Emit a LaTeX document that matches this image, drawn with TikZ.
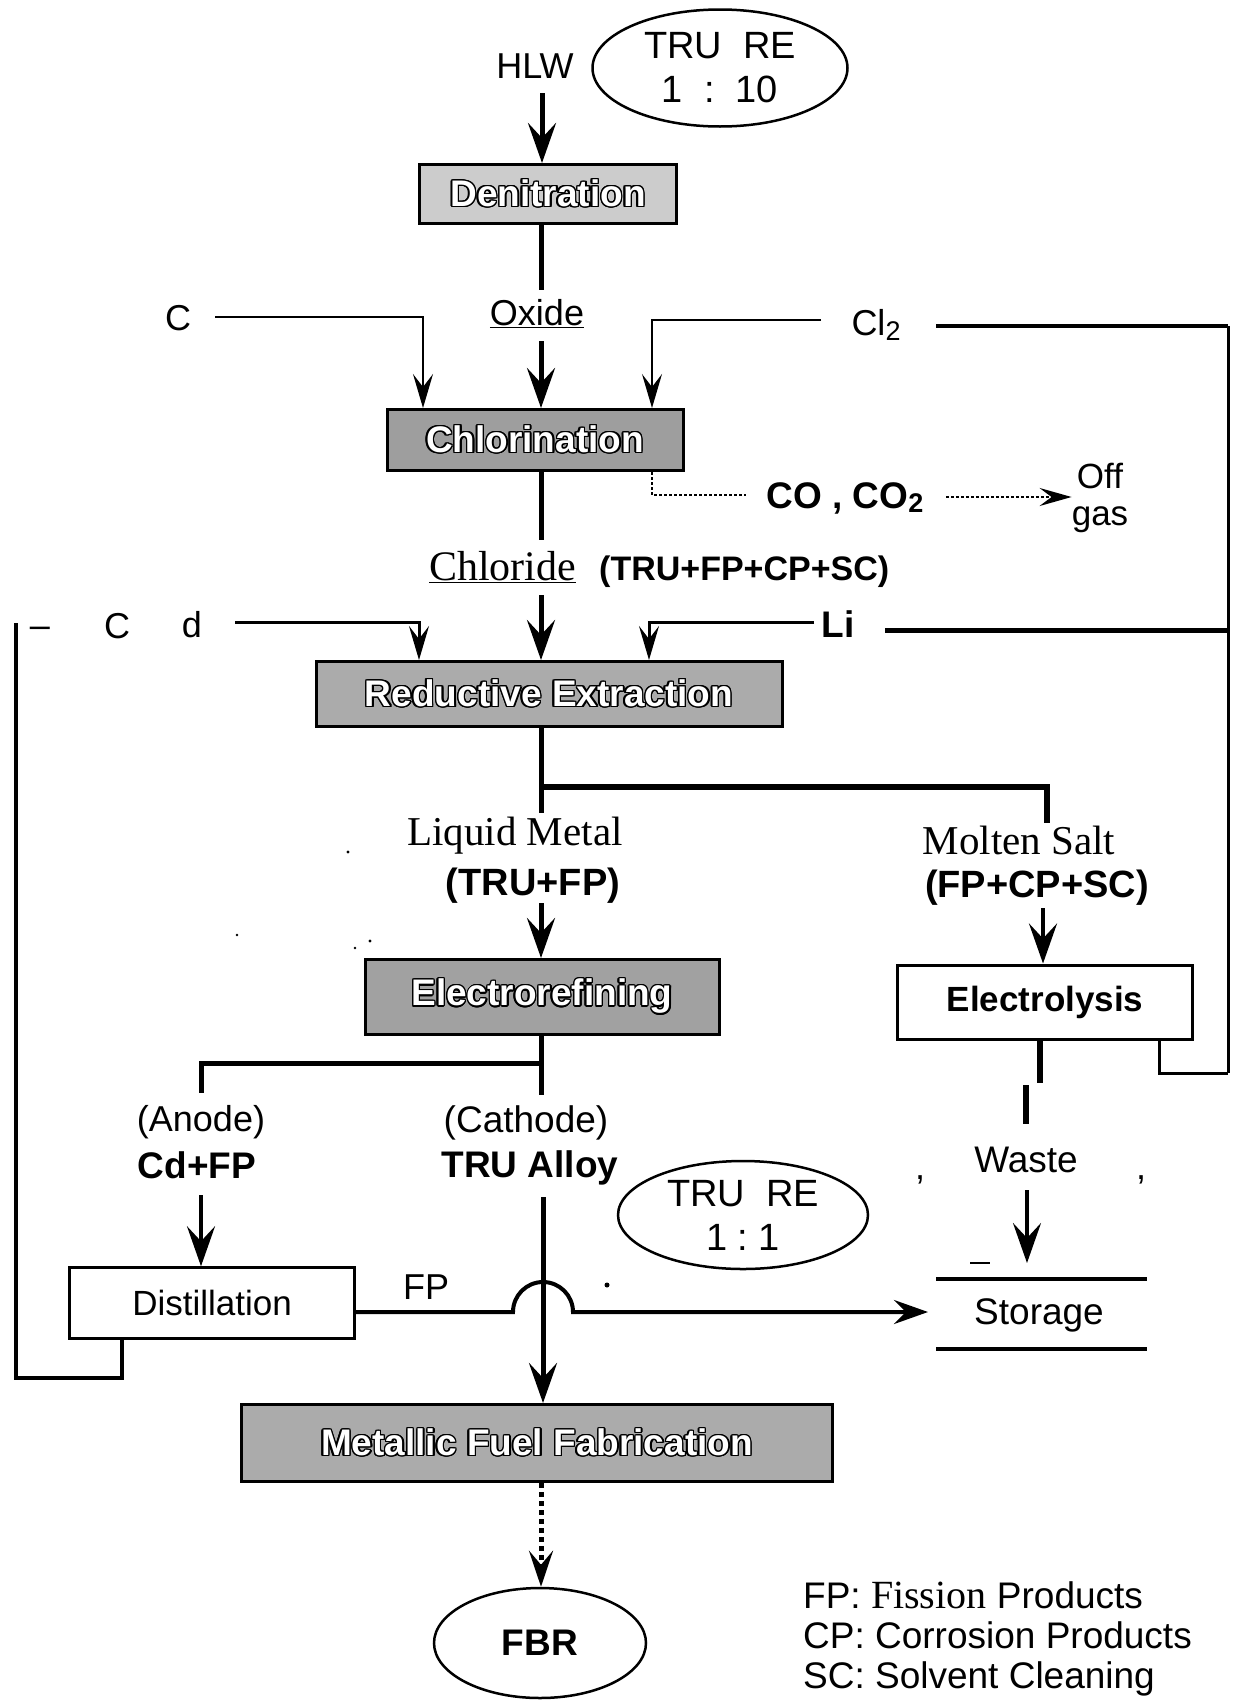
\documentclass[tikz,border=0pt]{standalone}
\usepackage{fontspec}
\setmainfont{Liberation Sans}
\newfontfamily\serifx{Liberation Serif}
\usepackage[copies]{contour}
\contourlength{1.4pt}
\usetikzlibrary{arrows.meta,shapes.geometric}
\newcommand\fsz[2]{\fontsize{#1}{#2}\selectfont}
\newcommand\boxtxt[1]{\contour{black}{\textcolor{white}{#1}}}
\newcommand\subtwo{\raisebox{-0.12em}{\fsz{27}{27}2}}
\tikzset{
  lbl/.style={inner sep=0pt, font=\fsz{36}{40}},
  blbl/.style={inner sep=0pt, font=\fsz{37}{40}\bfseries},
  slbl/.style={inner sep=0pt, font=\fsz{41}{44}\serifx},
  proc/.style={draw, line width=3pt, fill=gray!68, inner sep=0pt, font=\fsz{37}{40}\bfseries},
  wbox/.style={draw, line width=3pt, fill=white, inner sep=0pt},
  ellx/.style={draw, ellipse, line width=2.5pt, inner sep=0pt, align=center},
  spine/.style={line width=5pt},
  thinl/.style={line width=2pt},
  arrbig/.style={-{Stealth[length=40pt,width=28pt,inset=15pt]}},
  arrthin/.style={-{Stealth[length=34pt,width=20pt,inset=13pt]}},
  dotl/.style={line width=2.5pt, dash pattern=on 2.5pt off 2.5pt},
}
\begin{document}
\begin{tikzpicture}[x=1pt,y=-1pt]
\useasboundingbox (0,0) rectangle (1235,1700);

% ---------- top ----------
\node[lbl] (hlw) at (535,66) {HLW};
\node[ellx, minimum width=255, minimum height=117, font=\fsz{38}{44}] (re10) at (720,68) {TRU\ \ RE\\1\ \ :\ \ 10};
\node[proc, fill=gray!40, minimum width=257, minimum height=59] (deni) at (548,194) {\boxtxt{Denitration}};
\coordinate (hlwS) at (542,93);
\draw[spine, arrbig] (hlwS) -- (hlwS |- deni.north);

\coordinate (sp) at (541,0);
\node[lbl] (oxide) at (537,314) {\underline{Oxide}};
\coordinate (oxT) at (541,290);
\coordinate (oxB) at (541,341);
\draw[spine] (deni.south -| sp) -- (oxT);

\node[proc, fill=gray!76, minimum width=296, minimum height=61] (chlor) at (535,440) {\boxtxt{Chlorination}};
\draw[spine, arrbig] (oxB) -- (chlor.north -| sp);

% C input
\node[lbl] (cin) at (178,318) {C};
\coordinate (cA) at (215,317);
\coordinate (cK) at (423,317);
\draw[thinl, arrthin] (cA) -- (cK) -- (cK |- chlor.north);

% Cl2 input
\node[lbl] (cl2) at (876,325) {Cl\subtwo};
\coordinate (clA) at (821,320);
\coordinate (clK) at (652,320);
\draw[thinl, arrthin] (clA) -- (clK) -- (clK |- chlor.north);
\coordinate (clR) at (936,326);
\coordinate (rTop) at (1228,326);
\coordinate (rBot) at (1228,1073);
\draw[line width=3.5pt] (clR) -- (rTop);
\draw[line width=3pt] (rTop) -- (rBot);

% off gas
\node[blbl, font=\fsz{37}{40}\bfseries] (co) at (845,498) {CO , CO\subtwo};
\node[lbl, align=center, font=\fsz{35}{37}] (offgas) at (1100,498) {Off\\gas};
\coordinate (dK) at (652,495);
\coordinate (dE) at (746,495);
\draw[dotl] (chlor.south -| dK) -- (dK) -- (dE);
\coordinate (dA) at (946,497);
\draw[dotl, -{Stealth[length=32pt,width=18pt,inset=12pt]}] (dA) -- (offgas.west |- dA);

% chloride
\coordinate (chT) at (541,540);
\draw[spine] (chlor.south -| sp) -- (chT);
\node[inner sep=0pt, anchor=base west, font=\fsz{42}{44}\serifx] (chloride) at (429,580) {\underline{Chloride}};
\node[inner sep=0pt, anchor=base west, font=\fsz{34}{40}\bfseries] (chlgrp) at (599,580) {(TRU+FP+CP+SC)};

\node[proc, fill=gray!66, minimum width=466, minimum height=65] (redx) at (549,694) {\boxtxt{Reductive Extraction}};
\coordinate (chB) at (541,595);
\draw[spine, arrbig] (chB) -- (redx.north -| sp);

% Cd input
\node[lbl] (cdash) at (40,632) {--};
\node[lbl] (cdc) at (117,626) {C};
\node[lbl] (cdd) at (192,625) {d};
\coordinate (cdA) at (235,622);
\coordinate (cdK) at (419,622);
\draw[line width=3pt, arrthin] (cdA) -- (cdK) -- (cdK |- redx.north);

% Li input
\node[blbl] (li) at (838,624) {Li};
\coordinate (liA) at (814,622);
\coordinate (liK) at (649,622);
\draw[line width=3pt, arrthin] (liA) -- (liK) -- (liK |- redx.north);
\coordinate (liR) at (885,630);
\draw[line width=5pt] (liR) -- (liR -| rTop);

% branch after reductive extraction
\coordinate (rxB) at (541,813);
\coordinate (brJ) at (541,787);
\coordinate (brK) at (1047,787);
\coordinate (brE) at (1047,823);
\draw[spine] (redx.south -| sp) -- (rxB);
\draw[line width=6pt] (brJ) -- (brK) -- (brE);

\node[slbl] (liqm) at (515,836) {Liquid Metal};
\node[inner sep=0pt, font=\fsz{38}{40}\bfseries] (trufp) at (533,886) {(TRU+FP)};
\node[slbl] (molts) at (1019,840) {Molten Salt};
\node[inner sep=0pt, font=\fsz{38}{40}\bfseries] (fpcpsc) at (1037,888) {(FP+CP+SC)};

\node[proc, fill=gray!74, minimum width=354, minimum height=75] (elref) at (542,997) {\boxtxt{Electrorefining}};
\node[wbox, minimum width=295, minimum height=74, font=\fsz{35}{40}\bfseries] (elys) at (1045,1002) {Electrolysis};
\coordinate (lmA) at (541,903);
\draw[spine, arrbig] (lmA) -- (elref.north -| sp);
\coordinate (msA) at (1043,908);
\draw[line width=4pt, arrbig] (msA) -- (msA |- elys.north);

% electrolysis outputs
\coordinate (elyR) at (1159,1073);
\draw[line width=3pt] (elys.south -| elyR) -- (elyR) -- (rBot);
\coordinate (wa1) at (1040,1083);
\coordinate (wa2) at (1026,1085);
\coordinate (wa3) at (1026,1124);
\draw[line width=5.5pt] (elys.south -| wa1) -- (wa1);
\draw[line width=5.5pt] (wa2) -- (wa3);
\node[lbl, font=\fsz{37}{40}] (waste) at (1026,1160) {Waste};
\node[lbl] (cm1) at (920,1180) {,};
\node[lbl] (cm2) at (1141,1180) {,};
\coordinate (wsA) at (1027,1190);
\coordinate (wsB) at (1027,1263);
\draw[line width=3.5pt, arrbig] (wsA) -- (wsB);

% electrorefining outputs
\coordinate (erB) at (541,1095);
\coordinate (erJ) at (541,1063);
\coordinate (erK) at (201,1063);
\coordinate (erE) at (201,1093);
\draw[spine] (elref.south -| sp) -- (erB);
\draw[line width=5pt] (erJ) -- (erK) -- (erE);

\node[lbl, font=\fsz{36}{40}] (anode) at (201,1122) {(Anode)};
\node[blbl] (cdfp) at (197,1165) {Cd+FP};
\node[lbl, font=\fsz{37}{40}] (cathode) at (526,1123) {(Cathode)};
\node[blbl] (trual) at (530,1168) {TRU Alloy};
\node[ellx, minimum width=250, minimum height=108, font=\fsz{38}{44}] (re1) at (743,1215) {TRU\ \ RE\\1\ :\ 1};

\node[wbox, line width=2.5pt, minimum width=285, minimum height=71, font=\fsz{35}{40}] (dist) at (212,1303) {Distillation};
\coordinate (anA) at (201,1195);
\draw[line width=4pt, arrbig] (anA) -- (anA |- dist.north);

\node[proc, fill=gray!66, minimum width=591, minimum height=77] (metal) at (537,1443) {\boxtxt{Metallic Fuel Fabrication}};
\coordinate (caA) at (543,1197);
\draw[spine, arrbig] (caA) -- (caA |- metal.north);

% FP to storage with hop
\node[lbl, font=\fsz{36}{40}] (fplbl) at (426,1287) {FP};
\coordinate (fpH1) at (513,1312);
\coordinate (fpE) at (928,1312);
\draw[line width=4pt, -{Stealth[length=34pt,width=24pt,inset=12pt]}] (dist.east |- fpH1) -- (fpH1) arc[start angle=180, end angle=360, radius=30] -- (fpE);

% storage
\coordinate (stL1) at (936,1279);
\coordinate (stR1) at (1147,1279);
\coordinate (stL2) at (936,1349);
\coordinate (stR2) at (1147,1349);
\draw[line width=3.5pt] (stL1) -- (stR1);
\draw[line width=3.5pt] (stL2) -- (stR2);
\node[lbl, font=\fsz{37}{40}] (storage) at (1039,1315) {Storage};

% recycle loop on the left
\coordinate (lpA) at (122,1378);
\coordinate (lpB) at (16,1378);
\coordinate (lpC) at (16,623);
\draw[line width=3.5pt] (dist.south -| lpA) -- (lpA) -- (lpB) -- (lpC);

% to FBR
\node[ellx, minimum width=212, minimum height=110, font=\fsz{37}{40}\bfseries] (fbr) at (540,1643) {FBR};
\draw[line width=5pt, dash pattern=on 5pt off 4pt, -{Stealth[length=36pt,width=24pt,inset=14pt]}] (metal.south -| sp) -- (fbr.north -| sp);

% legend
\node[inner sep=0pt, anchor=base west, font=\fsz{37}{40}] (lg1) at (803,1608) {FP: {\serifx\fsz{40}{40}Fission} Products};
\node[inner sep=0pt, anchor=base west, font=\fsz{37}{40}] (lg2) at (803,1648) {CP: Corrosion Products};
\node[inner sep=0pt, anchor=base west, font=\fsz{37}{40}] (lg3) at (803,1688) {SC: Solvent Cleaning};

% scan specks
\fill (348,852) circle (1.6);
\fill (237,935) circle (1.3);
\fill (355,948) circle (1.3);
\fill (370,941) circle (1.6);
\fill (607,1285) circle (2.5);
\draw[line width=1.5pt] (970,1263) -- (990,1263);
\end{tikzpicture}
\end{document}
